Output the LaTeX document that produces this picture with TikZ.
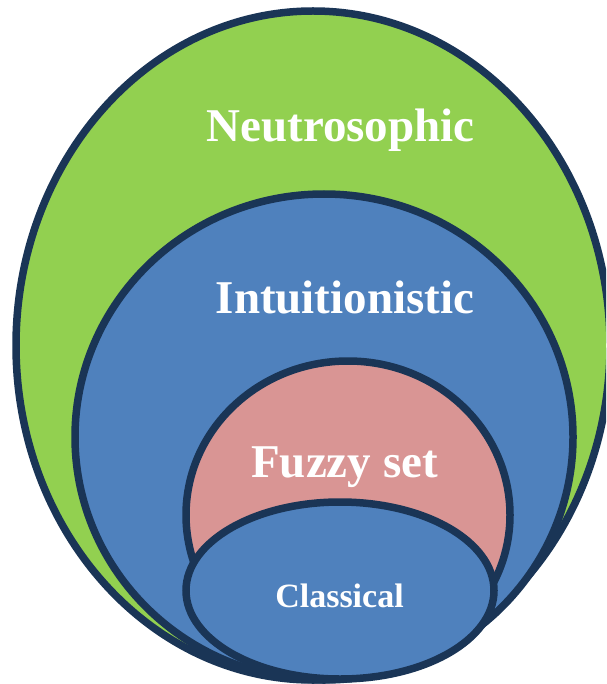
\documentclass[tikz,border=0pt]{standalone}
\usepackage{fontspec}
\setmainfont{Liberation Serif}
\usepackage{xcolor}

\definecolor{setline}{HTML}{1A3556}
\definecolor{neutrogreen}{HTML}{92D050}
\definecolor{intublue}{HTML}{4F81BD}
\definecolor{fuzzypink}{HTML}{D99594}

\begin{document}
\begin{tikzpicture}[x=1pt, y=-1pt,
      every node/.style={text=white, anchor=base, inner sep=0pt},
      region/.style={draw=setline, line width=7.5pt},
      biglabel/.style={font=\fontsize{47}{47}\selectfont\bfseries},
      smalllabel/.style={font=\fontsize{34}{34}\selectfont\bfseries}
    ]
    \useasboundingbox (0,0) rectangle (606,684);
    \clip (0,0) rectangle (606,684);

    % nested sets, outermost first
    \filldraw[region, fill=neutrogreen] (313,345.5) ellipse [x radius=297pt, y radius=334.5pt];
    \filldraw[region, fill=intublue] (324,437) ellipse [x radius=249pt, y radius=243pt];
    \filldraw[region, fill=fuzzypink] (348,515) ellipse [x radius=162pt, y radius=154pt];
    \filldraw[region, fill=intublue] (340,590.5) ellipse [x radius=154pt, y radius=88.5pt];

    % labels
    \node[biglabel] (neutro) at (340.5,142) {Neutrosophic};
    \node[biglabel] (intu) at (345,313) {Intuitionistic};
    \node[biglabel] (fuzzy) at (344.5,477) {Fuzzy set};
    \node[smalllabel] (classic) at (339.5,607) {Classical};
\end{tikzpicture}
\end{document}
